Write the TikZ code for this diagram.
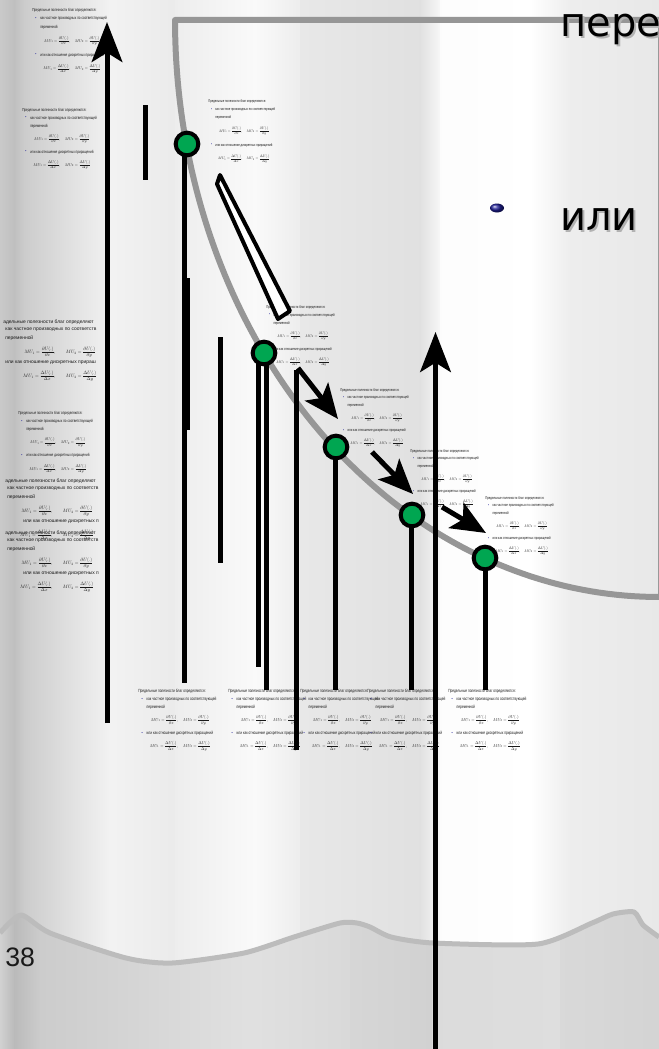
\documentclass[tikz,border=0pt]{standalone}
\usepackage[no-math]{fontspec}
\usepackage{graphicx}
\setmainfont{Liberation Sans}
\newfontfamily\nf[FakeStretch=0.72]{Liberation Sans}
\newfontfamily\wf{Liberation Sans}
\newfontfamily\dvs{DejaVu Sans}
\usetikzlibrary{arrows.meta}
\definecolor{dotgreen}{RGB}{0,166,81}
\definecolor{curvegray}{RGB}{150,150,150}
\definecolor{wavegray}{RGB}{188,188,188}
\definecolor{bulblue}{RGB}{30,30,150}
\definecolor{txt}{RGB}{25,25,25}
\tikzset{
 tl/.style={anchor=west,inner sep=0pt,text=txt},
 bl/.style={anchor=center,inner sep=0pt,text=bulblue},
 fm/.style={anchor=center,inner sep=0pt,text=txt},
 vline/.style={line width=3.75pt},
 greendot/.style={circle,fill=dotgreen,draw=black,line width=3pt,minimum size=17pt,inner sep=0pt},
 bigarrow/.style={line width=3.75pt,-{Stealth[length=30pt,width=23pt,inset=7pt]}},
 diagarrow/.style={line width=3.75pt,-{Stealth[length=26pt,width=22pt,inset=6pt]}},
 bigtext/.style={anchor=base west,inner sep=0pt,font=\dvs\fontsize{30}{30}\selectfont},
}
\newcommand\bgs[4]{\shade[left color=#3,right color=#4] (#1,0) rectangle (#2,1049);}
\newcommand\mub[5]{%
\begin{scope}[shift={(#2,#3)},xscale=#4,yscale=#5]
\pgfmathsetmacro\tsc{0.32*#4}%
\pgfmathsetmacro\msc{0.30*#4}%
\node[tl] (#1a) at (0,0) {\scalebox{\tsc}{\nf Предельные полезности благ определяются:}};
\node[bl] (#1b) at (4,8) {\scalebox{\tsc}{\nf •}};
\node[tl] (#1c) at (8,8) {\scalebox{\tsc}{\nf как частное производных по соответствующей}};
\node[tl] (#1d) at (8,16) {\scalebox{\tsc}{\nf переменной}};
\node[fm] (#1e) at (40,29) {\scalebox{\msc}{$\displaystyle MU_1=\frac{\partial U(.)}{\partial x},\quad MU_2=\frac{\partial U(.)}{\partial y}$}};
\node[bl] (#1f) at (4,42) {\scalebox{\tsc}{\nf •}};
\node[tl] (#1g) at (8,42) {\scalebox{\tsc}{\nf или как отношение дискретных приращений}};
\node[fm] (#1h) at (40,55) {\scalebox{\msc}{$\displaystyle MU_1=\frac{\Delta U(.)}{\Delta x},\quad MU_2=\frac{\Delta U(.)}{\Delta y}$}};
\end{scope}}
\newcommand\mubw[5]{%
\begin{scope}
\clip (0,0) rectangle (98,1049);
\begin{scope}[shift={(#2,#3)}]
\node[tl] (#1a) at (-2,0) {\scalebox{0.37}{\wf адельные полезности благ определяют}};
\node[tl] (#1b) at (0,8) {\scalebox{0.37}{\wf как частное производных по соответств}};
\node[tl] (#1c) at (0,16) {\scalebox{0.37}{\wf переменной}};
\node[fm] (#1d) at (#5,30) {\scalebox{0.36}{$\displaystyle MU_1=\frac{\partial U(.)}{\partial x},\qquad MU_2=\frac{\partial U(.)}{\partial y}$}};
\node[tl] (#1e) at (#4,41) {\scalebox{0.37}{\wf или как отношение дискретных прираш}};
\node[fm] (#1f) at (#5,54) {\scalebox{0.36}{$\displaystyle MU_1=\frac{\Delta U(.)}{\Delta x},\qquad MU_2=\frac{\Delta U(.)}{\Delta y}$}};
\end{scope}
\end{scope}}
\begin{document}
\begin{tikzpicture}[x=0.75pt,y=-0.75pt]
\useasboundingbox (0,0) rectangle (659,1049);
% background stripes
\bgs{0}{14.5}{black!21}{black!25}
\bgs{14}{24.5}{black!25}{black!20}
\bgs{24}{110.5}{black!20}{black!5}
\bgs{110}{175.5}{black!5}{black!8}
\bgs{175}{255.5}{black!7}{black!2}
\bgs{255}{300.5}{black!2}{black!7}
\bgs{300}{420.5}{black!9}{black!12}
\bgs{420}{440.5}{black!12}{black!3}
\bgs{440}{530.5}{black!1}{black!0}
\bgs{530}{570.5}{black!0}{black!7}
\bgs{570}{659}{black!7}{black!9}
% bottom wave area
\begin{scope}
\clip plot[smooth,tension=0.4] coordinates {(0,933) (21,915) (50,933) (126,958) (172,963) (244,953) (294,937) (340,923) (357,923) (370,927) (391,937) (433,943) (538,944) (592,923) (613,914) (634,912) (643,925) (659,937)} -- (659,1049) -- (0,1049) -- cycle;
\shade[left color=black!18,right color=black!27] (0,900) rectangle (14.5,1049);
\shade[left color=black!27,right color=black!20] (14,900) rectangle (40.5,1049);
\shade[left color=black!20,right color=black!12] (40,900) rectangle (250.5,1049);
\shade[left color=black!12,right color=black!15] (250,900) rectangle (350.5,1049);
\shade[left color=black!16,right color=black!18] (350,900) rectangle (432.5,1049);
\shade[left color=black!14,right color=black!13] (432,900) rectangle (560.5,1049);
\shade[left color=black!15,right color=black!17] (560,900) rectangle (659,1049);
\end{scope}
\draw[wavegray,line width=3.75pt,line join=round] plot[smooth,tension=0.4] coordinates {(0,933) (21,915) (50,933) (126,958) (172,963) (244,953) (294,937) (340,923) (357,923) (370,927) (391,937) (433,943) (538,944) (592,923) (613,914) (634,912) (643,925) (659,937)};
\node[anchor=base west,inner sep=0pt,font=\wf\fontsize{20}{20}\selectfont,text=black!90] (pg) at (5,966) {38};
% frame curve
\draw[black!40,line width=0.75pt] (658.5,22) -- (658.5,597);
\draw[curvegray,line width=4.5pt,line join=round] (659,20) -- plot[domain=0:90,samples=90] ({659-484*cos(\x)},{20+577*sin(\x)});
% text blocks
\mub{A}{32}{10}{1.0}{1.07}
\mub{B}{22}{110}{1.0}{1.0}
\mub{C}{208}{101}{0.9}{1.05}
\mub{D}{266}{307}{0.92}{1.0}
\mub{E}{340}{390}{0.92}{0.97}
\mub{F}{410}{451}{0.92}{0.97}
\mub{G}{485}{498}{0.92}{0.97}
\mub{I}{18}{413}{1.0}{1.02}
\mub{Ja}{138}{691}{1.05}{1.0}
\mub{Jb}{228}{691}{1.05}{1.0}
\mub{Jc}{300}{691}{1.05}{1.0}
\mub{Jd}{367}{691}{1.05}{1.0}
\mub{Je}{448}{691}{1.05}{1.0}
\mubw{Wa}{5}{322}{0}{55}
\mubw{Wb}{7}{481}{16}{50}
\mubw{Wc}{7}{533}{16}{50}
% outlined wedge
\draw[line width=3pt,line join=round,fill=white] (220,175) -- (290,311) -- (278,319) -- (217,184) -- cycle;
% coordinates
\coordinate (s1) at (145,105); \coordinate (e1) at (145,180);
\coordinate (s2) at (184.5,150); \coordinate (e2) at (184.5,683);
\coordinate (s3) at (187.5,278); \coordinate (e3) at (187.5,430);
\coordinate (s4) at (220,337); \coordinate (e4) at (220,563);
\coordinate (s5) at (258,353); \coordinate (e5) at (258,667);
\coordinate (s6) at (266,353); \coordinate (e6) at (266,690);
\coordinate (s7) at (296,370); \coordinate (e7) at (296,750);
\coordinate (s8) at (335.5,447); \coordinate (e8) at (335.5,690);
\coordinate (s9) at (411.5,515); \coordinate (e9) at (411.5,690);
\coordinate (s10) at (485,558); \coordinate (e10) at (485,690);
\coordinate (ua) at (107,723); \coordinate (ub) at (107,22);
\coordinate (va) at (435.5,1049); \coordinate (vb) at (435.5,332);
\coordinate (p1a) at (298,368); \coordinate (p1b) at (338,419);
\coordinate (p2a) at (372,452); \coordinate (p2b) at (413,494);
\coordinate (p3a) at (442,507); \coordinate (p3b) at (486,533);
\foreach \i in {1,...,10} {\draw[vline] (s\i) -- (e\i);}
\draw[bigarrow] (ua) -- (ub);
\draw[bigarrow] (va) -- (vb);
\draw[diagarrow] (p1a) -- (p1b);
\draw[diagarrow] (p2a) -- (p2b);
\draw[diagarrow] (p3a) -- (p3b);
% dots
\node[greendot] (d1) at (187,144) {};
\node[greendot] (d2) at (264,353) {};
\node[greendot] (d3) at (336,447) {};
\node[greendot] (d4) at (412,515) {};
\node[greendot] (d5) at (485,558) {};
% big text
\node[bigtext,text=black!30] (t1s) at (562,39) {пере};
\node[bigtext] (t1) at (560,37) {пере};
\shade[ball color=bulblue] (497,208) ellipse [x radius=7, y radius=4.5];
\node[bigtext,text=black!30] (t2s) at (562,232) {или};
\node[bigtext] (t2) at (560,230) {или};
\end{tikzpicture}
\end{document}
